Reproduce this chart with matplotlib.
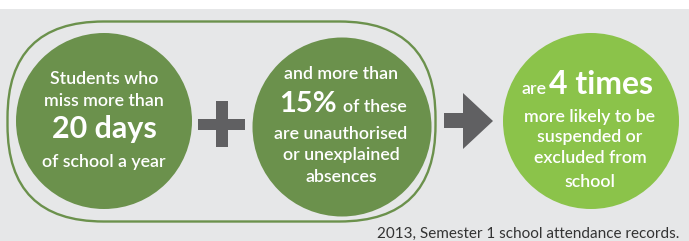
import matplotlib
matplotlib.use("Agg")
import matplotlib.pyplot as plt
from matplotlib.patches import Circle, FancyBboxPatch, Rectangle, Polygon

# ---- content / data ----
days_missed = 20
unauthorised_pct = 15
times_more_likely = 4

circle1_lines = ["Students who", "miss more than", f"{days_missed} days", "of school a year"]
circle2_lines = ["and more than", f"{unauthorised_pct}%", "of these", "are unauthorised",
                 "or unexplained", "absences"]
circle3_lines = ["are", f"{times_more_likely} times", "more likely to be", "suspended or",
                 "excluded from", "school"]
footer = "2013, Semester 1 school attendance records."

# ---- style ----
BG = "#e6e7e8"
DARK_GREEN = "#6b914c"
LIGHT_GREEN = "#8bc34a"
GREY = "#606062"
FONT = "Lato"
BODY_W = "semibold"

W, H = 689, 241
fig = plt.figure(figsize=(W / 100, H / 100), dpi=100)
ax = fig.add_axes([0, 0, 1, 1])
ax.set_xlim(0, W)
ax.set_ylim(H, 0)
ax.axis("off")
fig.patch.set_facecolor("white")

# background gray panel under a thin white top strip
ax.add_patch(Rectangle((0, 9), W, H - 9, facecolor=BG, edgecolor="none", zorder=0))

# stadium outline around the two first circles
ax.add_patch(FancyBboxPatch((7.5, 21.5), 428, 200,
                            boxstyle="round,pad=0,rounding_size=96",
                            facecolor="none", edgecolor=DARK_GREEN, linewidth=1.7, zorder=1))

# circles
ax.add_patch(Circle((104, 121), 88, facecolor=DARK_GREEN, edgecolor="none", zorder=2))
ax.add_patch(Circle((342, 127), 89.5, facecolor=DARK_GREEN, edgecolor="none", zorder=2))
ax.add_patch(Circle((591, 121), 88, facecolor=LIGHT_GREEN, edgecolor="none", zorder=2))

# plus sign
ax.add_patch(Rectangle((216, 101), 11.5, 46, facecolor=GREY, edgecolor="none", zorder=2))
ax.add_patch(Rectangle((198, 119), 47, 11, facecolor=GREY, edgecolor="none", zorder=2))

# arrow
ax.add_patch(Rectangle((444, 113), 20, 15, facecolor=GREY, edgecolor="none", zorder=2))
ax.add_patch(Polygon([(463, 93), (493, 121), (463, 149)], closed=True,
                     facecolor=GREY, edgecolor="none", zorder=2))

def t(x, y, s, size, weight=BODY_W, ha="center", color="white"):
    ax.text(x, y, s, fontsize=size, fontweight=weight,
            family=FONT, color=color, ha=ha, va="baseline", zorder=3)

# circle 1 text
t(104, 84, circle1_lines[0], 12.8)
t(104, 106, circle1_lines[1], 12.8)
t(104, 138, circle1_lines[2], 22, weight="bold")
t(104, 167, circle1_lines[3], 12.8)

# circle 2 text
t(341, 79, circle2_lines[0], 12.8)
t(337, 112, circle2_lines[1], 21, weight="bold", ha="right")
t(343, 112, circle2_lines[2], 12.8, ha="left")
t(341, 139, circle2_lines[3], 12.8)
t(341, 160, circle2_lines[4], 12.8)
t(341, 182, circle2_lines[5], 12.8)

# circle 3 text
t(546, 94, circle3_lines[0], 12.8, ha="right")
t(549, 94, circle3_lines[1], 23, weight="bold", ha="left")
t(590, 122, circle3_lines[2], 12.8)
t(590, 142, circle3_lines[3], 12.8)
t(590, 163, circle3_lines[4], 12.8)
t(590, 187, circle3_lines[5], 12.8)

# footer
t(679, 238, footer, 11, weight="normal", ha="right", color="#333333")

fig.savefig("out.png", dpi=100, facecolor=fig.get_facecolor())
